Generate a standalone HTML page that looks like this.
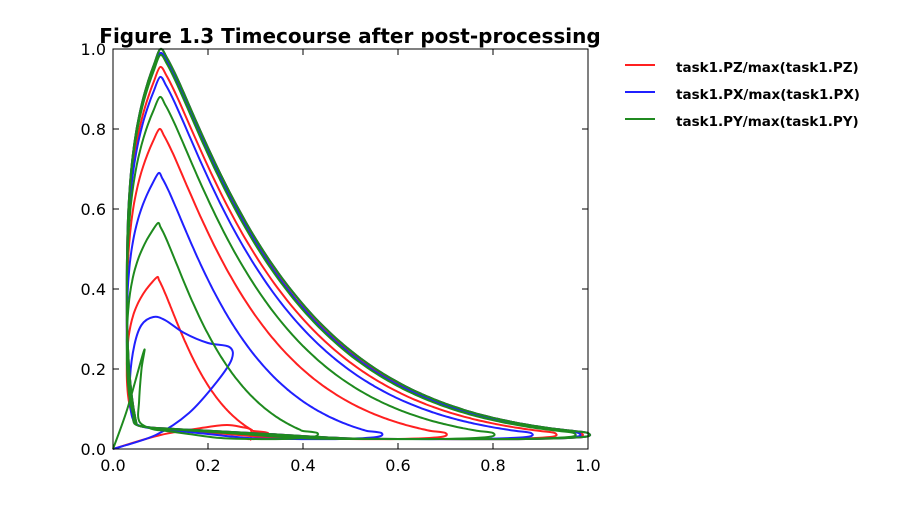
<!DOCTYPE html>
<html><head><meta charset="utf-8"><style>
body{margin:0;background:#fff;}
svg text{font-family:"DejaVu Sans","Liberation Sans",sans-serif;}
</style></head><body>
<svg id="chart" width="900" height="500" xmlns="http://www.w3.org/2000/svg">
<rect width="900" height="500" fill="#fff"/>
<text x="350" y="43" text-anchor="middle" font-size="20" font-weight="bold">Figure 1.3 Timecourse after post-processing</text>
<g id="series"></g>
<rect x="113" y="49" width="475" height="400" fill="none" stroke="#000" stroke-width="1"/>
<g id="axes"></g>
<g id="legend">
<g><line x1="625" y1="65" x2="655" y2="65" stroke="#ff2020" stroke-width="2"/><text x="676" y="72" font-size="13.5" font-weight="bold">task1.PZ/max(task1.PZ)</text></g>
<g><line x1="625" y1="92" x2="655" y2="92" stroke="#2020ff" stroke-width="2"/><text x="676" y="99" font-size="13.5" font-weight="bold">task1.PX/max(task1.PX)</text></g>
<g><line x1="625" y1="119" x2="655" y2="119" stroke="#208a20" stroke-width="2"/><text x="676" y="126" font-size="13.5" font-weight="bold">task1.PY/max(task1.PY)</text></g>
</g>
</svg>
<script>
const xTicks=[0,0.2,0.4,0.6,0.8,1.0];
const yTicks=[0,0.2,0.4,0.6,0.8,1.0];
const redStart=[[0,0],[0.1,0.035],[0.2,0.055],[0.24,0.06],[0.27,0.055],[0.29,0.048]];
const redTips=[0.326,0.70,0.93,0.985,1.0];
const redPeaks=[0.43,0.80,0.955,0.99,1.0];
const blueStart=[[0,0],[0.09,0.035],[0.16,0.09],[0.22,0.17],[0.25,0.225],[0.245,0.255],[0.2,0.265],[0.15,0.29],[0.11,0.322],[0.085,0.33],[0.06,0.31],[0.045,0.26],[0.036,0.18],[0.037,0.1],[0.05,0.062]];
const blueTips=[0.565,0.88,0.98,1.0];
const bluePeaks=[0.69,0.93,0.99,1.0];
const greenStart=[[0,0],[0.03,0.1],[0.065,0.245],[0.06,0.2],[0.055,0.12],[0.055,0.07]];
const greenTips=[0.43,0.80,0.97,1.0,1.0];
const greenPeaks=[0.565,0.88,0.985,1.0,1.0];

const X=v=>113+v*475, Y=v=>449-v*400;
const NS='http://www.w3.org/2000/svg';
const ax=document.getElementById('axes');
xTicks.forEach(t=>{
  const l=document.createElementNS(NS,'path');
  l.setAttribute('d',`M${X(t)},449v-6M${X(t)},49v6`);l.setAttribute('stroke','#000');
  
  
  ax.appendChild(l);
  const tx=document.createElementNS(NS,'text');
  tx.setAttribute('x',X(t));tx.setAttribute('y',471);tx.setAttribute('text-anchor','middle');tx.setAttribute('font-size','16');
  tx.textContent=t.toFixed(1);
  
  
  ax.appendChild(tx);
});
yTicks.forEach(t=>{
  const l=document.createElementNS(NS,'path');
  l.setAttribute('d',`M113,${Y(t)}h6M588,${Y(t)}h-6`);l.setAttribute('stroke','#000');
  
  
  ax.appendChild(l);
  const tx=document.createElementNS(NS,'text');
  tx.setAttribute('x',106);tx.setAttribute('y',Y(t)+6);tx.setAttribute('text-anchor','end');tx.setAttribute('font-size','16');
  tx.textContent=t.toFixed(1);
  
  
  ax.appendChild(tx);
});

function buildPath(start,tips,peaks){
  const pts=start.slice();
  for(let i=0;i<tips.length;i++){
    const T=tips[i],P=peaks[i];
    const cur=pts[pts.length-1];
    const bx=[0.08,0.15,0.3,0.5,0.7,0.9].map(f=>cur[0]+(T-0.04-cur[0])*f);
    bx.forEach(x=>{const f=(x-0.05)/Math.max(T-0.05,0.01);pts.push([x,Math.max(0.022,0.055-0.03*Math.min(1,f*2))]);});
    pts.push([T-0.01,0.03]);pts.push([T,0.04]);
    const xp=0.088+0.012*P;
    const span=T-0.03-xp;
    const c=0.05/span;
    const kk=1.0+1.5*span;
    for(let k=60;k>=0;k--){
      const u=k/60;
      const f=(1-u)*Math.exp(-kk*u*u/(u+c));
      pts.push([xp+span*u,0.045+(P-0.045)*f]);
    }
    for(let k=1;k<=24;k++){
      const s=1-k/24;
      pts.push([0.028+(xp-0.028)*Math.pow(s,5)+0.022*Math.pow(1-s,8),0.06+(P-0.06)*s]);
    }
  }
  return pts;
}
function smooth(pts){
  let d=`M${X(pts[0][0])},${Y(pts[0][1])}`;
  for(let i=0;i<pts.length-1;i++){
    const p0=pts[Math.max(0,i-1)],p1=pts[i],p2=pts[i+1],p3=pts[Math.min(pts.length-1,i+2)];
    const c1=[X(p1[0])+(X(p2[0])-X(p0[0]))/6,Y(p1[1])+(Y(p2[1])-Y(p0[1]))/6];
    const c2=[X(p2[0])-(X(p3[0])-X(p1[0]))/6,Y(p2[1])-(Y(p3[1])-Y(p1[1]))/6];
    d+=`C${c1[0].toFixed(1)},${c1[1].toFixed(1)} ${c2[0].toFixed(1)},${c2[1].toFixed(1)} ${X(p2[0]).toFixed(1)},${Y(p2[1]).toFixed(1)}`;
  }
  return d;
}
const g=document.getElementById('series');
[[redStart,redTips,redPeaks,'#ff2020','series-pz'],[blueStart,blueTips,bluePeaks,'#2020ff','series-px'],[greenStart,greenTips,greenPeaks,'#1e8a1e','series-py']].forEach(s=>{
  const p=document.createElementNS(NS,'path');
  p.setAttribute('d',smooth(buildPath(s[0],s[1],s[2])));
  p.setAttribute('fill','none');p.setAttribute('stroke',s[3]);p.setAttribute('stroke-width','2');p.setAttribute('stroke-linejoin','round');
  
  
  g.appendChild(p);
});
</script>
</body></html>
